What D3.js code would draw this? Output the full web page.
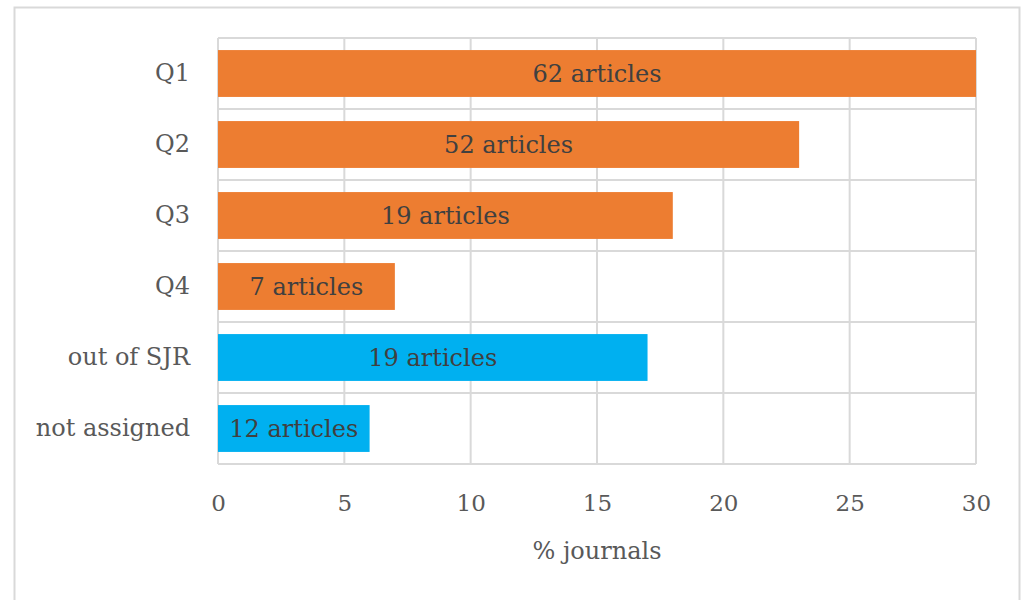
<!DOCTYPE html>
<html>
<head>
<meta charset="utf-8">
<script src="https://cdn.jsdelivr.net/npm/d3@7"></script>
<style>
  body { margin: 0; background: #fff; }
  text { font-family: "DejaVu Serif", serif; }
</style>
</head>
<body>
<div id="cnv"></div>
<script>
var categories = ["Q1", "Q2", "Q3", "Q4", "out of SJR", "not assigned"];
var values = [30, 23, 18, 7, 17, 6];
var barLabels = ["62 articles", "52 articles", "19 articles", "7 articles", "19 articles", "12 articles"];
var barColors = ["#ED7D31", "#ED7D31", "#ED7D31", "#ED7D31", "#00B0F0", "#00B0F0"];
var xTicks = [0, 5, 10, 15, 20, 25, 30];

var width = 1022, height = 600;
var margin = {top: 38, right: 46, bottom: 136, left: 218},
    graphWidth = width - margin.left - margin.right,
    graphHeight = height - margin.top - margin.bottom;

var svg = d3.select("#cnv").append("svg")
  .attr("width", width)
  .attr("height", height);

// outer frame
svg.append("rect")
  .attr("x", 14.5).attr("y", 7.5)
  .attr("width", 1005).attr("height", 620)
  .attr("fill", "none")
  .attr("stroke", "#d9d9d9")
  .attr("stroke-width", 2);

var g = svg.append("g")
  .attr("transform", "translate(" + margin.left + "," + margin.top + ")");

var xScale = d3.scaleLinear().domain([0, 30]).range([0, graphWidth]);
var yScale = d3.scaleBand().domain(categories).range([0, graphHeight]).paddingInner(0.34).paddingOuter(0.17);

// vertical gridlines
g.selectAll(".vgrid")
  .data(xTicks)
  .enter().append("line")
  .attr("x1", function(d) { return xScale(d); })
  .attr("x2", function(d) { return xScale(d); })
  .attr("y1", 0).attr("y2", graphHeight)
  .attr("stroke", "#d9d9d9").attr("stroke-width", 2);

// horizontal gridlines at category boundaries
var bounds = d3.range(categories.length + 1);
g.selectAll(".hgrid")
  .data(bounds)
  .enter().append("line")
  .attr("x1", 0).attr("x2", graphWidth)
  .attr("y1", function(d) { return d * graphHeight / categories.length; })
  .attr("y2", function(d) { return d * graphHeight / categories.length; })
  .attr("stroke", "#d9d9d9").attr("stroke-width", 2);

// bars
g.selectAll(".bar")
  .data(categories)
  .enter().append("rect")
  .attr("x", 0)
  .attr("y", function(d) { return yScale(d); })
  .attr("width", function(d, i) { return xScale(values[i]); })
  .attr("height", yScale.bandwidth())
  .attr("fill", function(d, i) { return barColors[i]; });

// bar labels
g.selectAll(".blabel")
  .data(categories)
  .enter().append("text")
  .attr("x", function(d, i) { return xScale(values[i]) / 2; })
  .attr("y", function(d) { return yScale(d) + yScale.bandwidth() / 2; })
  .attr("dy", "0.35em")
  .attr("text-anchor", "middle")
  .attr("font-size", "24px")
  .attr("fill", "#404040")
  .text(function(d, i) { return barLabels[i]; });

// y axis labels
var yAxis = g.append("g")
  .call(d3.axisLeft(yScale).tickSize(0).tickPadding(28));
yAxis.select(".domain").remove();
yAxis.selectAll("text")
  .attr("font-size", "24px")
  .attr("fill", "#595959")
  .style("font-family", "DejaVu Serif, serif");

// x axis
var xAxis = g.append("g")
  .attr("transform", "translate(0," + graphHeight + ")")
  .call(d3.axisBottom(xScale).tickValues(xTicks).tickSize(0).tickPadding(31));
xAxis.select(".domain").remove();
xAxis.selectAll("text")
  .attr("font-size", "23px")
  .attr("fill", "#595959")
  .style("font-family", "DejaVu Serif, serif");

// axis title
svg.append("text")
  .attr("x", margin.left + graphWidth / 2)
  .attr("y", 559)
  .attr("text-anchor", "middle")
  .attr("font-size", "24px")
  .attr("fill", "#595959")
  .text("% journals");
</script>
</body>
</html>
